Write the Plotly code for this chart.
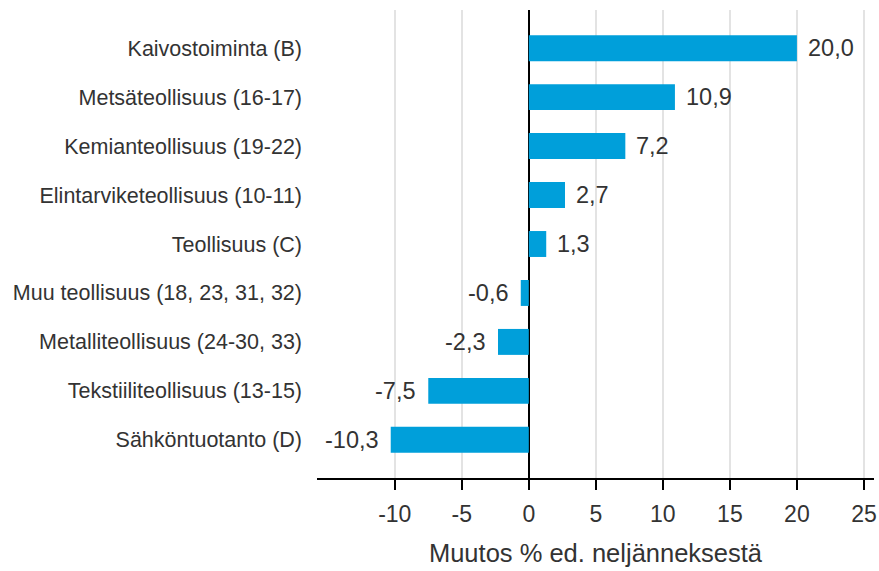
import plotly.graph_objects as go

categories = [
    "Sähköntuotanto (D)",
    "Tekstiiliteollisuus (13-15)",
    "Metalliteollisuus (24-30, 33)",
    "Muu teollisuus (18, 23, 31, 32)",
    "Teollisuus (C)",
    "Elintarviketeollisuus (10-11)",
    "Kemianteollisuus (19-22)",
    "Metsäteollisuus (16-17)",
    "Kaivostoiminta (B)",
]
values = [-10.3, -7.5, -2.3, -0.6, 1.3, 2.7, 7.2, 10.9, 20.0]
tick_vals = [-10, -5, 0, 5, 10, 15, 20, 25]
tick_text = ["-10", "-5", "0", "5", "10", "15", "20", "25"]
axis_title = "Muutos % ed. neljänneksestä"

labels = [f"{v:.1f}".replace(".", ",") for v in values]

FONT = "Liberation Sans, Arial, sans-serif"
TXT = "#333333"

fig = go.Figure(go.Bar(
    y=categories, x=values, orientation="h",
    marker=dict(color="#009fda", line=dict(width=0)),
    width=0.53,
    hoverinfo="skip",
))

for cat, v, lab in zip(categories, values, labels):
    fig.add_annotation(
        x=v, y=cat, text=lab, showarrow=False,
        xanchor="left" if v >= 0 else "right",
        xshift=9 if v >= 0 else -10,
        font=dict(family=FONT, size=23.5, color=TXT),
    )

fig.update_layout(
    width=879, height=571,
    margin=dict(l=317, r=5, t=10, b=93),
    plot_bgcolor="white", paper_bgcolor="white",
    font=dict(family=FONT, size=21.5, color=TXT),
    showlegend=False,
    xaxis=dict(
        range=[-15.8, 25.75],
        automargin=False,
        tickvals=tick_vals, ticktext=tick_text,
        showgrid=True, gridcolor="#e3e3e3", gridwidth=2,
        zeroline=True, zerolinecolor="#000000", zerolinewidth=1.5,
        showline=True, linecolor="#000000", linewidth=1.5,
        ticks="outside", ticklen=10, tickcolor="#000000", tickwidth=1.5,
        tickfont=dict(size=23, color=TXT),
        ticklabelstandoff=5,
        title=dict(text=axis_title, font=dict(size=25.5, color=TXT), standoff=18),
    ),
    yaxis=dict(
        range=[-0.78, 8.78],
        automargin=False,
        showgrid=False, showline=False, ticks="",
        tickfont=dict(size=21.5, color=TXT),
        ticklabelstandoff=14,
    ),
)

fig.write_html(
    "out.html",
    config={"displayModeBar": False, "staticPlot": True},
    post_script="document.body.style.margin='0';document.body.style.overflow='hidden';",
)
